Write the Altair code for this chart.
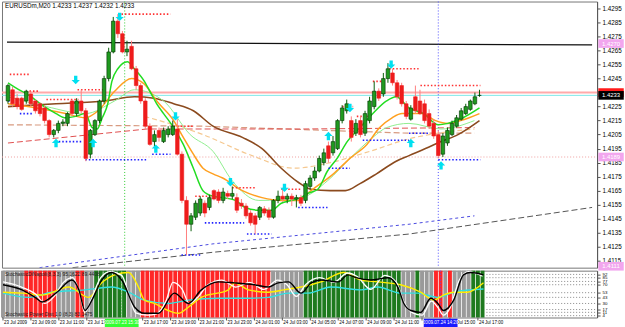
import altair as alt
import pandas as pd

# ---------------- price bars (EURUSD, one bar per index) ----------------
open_ = [1.4229, 1.4237, 1.4231, 1.4231, 1.4229, 1.4234, 1.4229, 1.4227, 1.4224, 1.4215,
         1.4205, 1.4208, 1.4213, 1.4213, 1.4229, 1.4220, 1.4229, 1.4222, 1.4191, 1.4205,
         1.4215, 1.4229, 1.4245, 1.4264, 1.4286, 1.4277, 1.4264, 1.4268, 1.4252, 1.4240,
         1.4229, 1.4211, 1.4200, 1.4208, 1.4200, 1.4205, 1.4205, 1.4209, 1.4191, 1.4158,
         1.4141, 1.4146, 1.4149, 1.4156, 1.4153, 1.4165, 1.4164, 1.4158, 1.4163, 1.4161,
         1.4160, 1.4156, 1.4154, 1.4149, 1.4147, 1.4146, 1.4152, 1.4151, 1.4146, 1.4158,
         1.4161, 1.4159, 1.4161, 1.4159, 1.4160, 1.4158, 1.4168, 1.4174, 1.4179, 1.4185,
         1.4197, 1.4192, 1.4195, 1.4215, 1.4222, 1.4215, 1.4206, 1.4215, 1.4206, 1.4215,
         1.4225, 1.4236, 1.4234, 1.4245, 1.4249, 1.4242, 1.4240, 1.4227, 1.4216, 1.4232,
         1.4229, 1.4227, 1.4220, 1.4213, 1.4205, 1.4191, 1.4199, 1.4205, 1.4211, 1.4216,
         1.4220, 1.4223, 1.4227, 1.4233]
close_ = [1.4240, 1.4227, 1.4225, 1.4223, 1.4236, 1.4227, 1.4222, 1.4220, 1.4215, 1.4205,
          1.4208, 1.4213, 1.4214, 1.4220, 1.4220, 1.4229, 1.4222, 1.4188, 1.4208, 1.4215,
          1.4229, 1.4245, 1.4264, 1.4286, 1.4277, 1.4264, 1.4266, 1.4252, 1.4240, 1.4229,
          1.4211, 1.4198, 1.4205, 1.4203, 1.4208, 1.4209, 1.4211, 1.4191, 1.4158, 1.4141,
          1.4147, 1.4156, 1.4159, 1.4149, 1.4160, 1.4159, 1.4158, 1.4164, 1.4161, 1.4163,
          1.4151, 1.4154, 1.4147, 1.4142, 1.4141, 1.4153, 1.4149, 1.4146, 1.4158, 1.4161,
          1.4159, 1.4161, 1.4159, 1.4160, 1.4156, 1.4170, 1.4174, 1.4179, 1.4188, 1.4192,
          1.4188, 1.4200, 1.4215, 1.4224, 1.4227, 1.4203, 1.4213, 1.4205, 1.4220, 1.4229,
          1.4236, 1.4231, 1.4245, 1.4252, 1.4242, 1.4232, 1.4227, 1.4218, 1.4224, 1.4222,
          1.4220, 1.4215, 1.4211, 1.4204, 1.4190, 1.4204, 1.4208, 1.4213, 1.4217, 1.4222,
          1.4225, 1.4229, 1.4232, 1.4233]
high_ = [1.4241, 1.4239, 1.4234, 1.4232, 1.4237, 1.4236, 1.4230, 1.4228, 1.4226, 1.4216,
         1.4209, 1.4215, 1.4216, 1.4221, 1.4230, 1.4231, 1.4237, 1.4224, 1.4209, 1.4216,
         1.4230, 1.4247, 1.4267, 1.4289, 1.4291, 1.4279, 1.4272, 1.4272, 1.4254, 1.4242,
         1.4231, 1.4213, 1.4208, 1.4210, 1.4210, 1.4211, 1.4215, 1.4216, 1.4193, 1.4161,
         1.4149, 1.4158, 1.4161, 1.4158, 1.4162, 1.4166, 1.4166, 1.4167, 1.4165, 1.4168,
         1.4163, 1.4159, 1.4156, 1.4151, 1.4149, 1.4154, 1.4154, 1.4153, 1.4159, 1.4165,
         1.4167, 1.4163, 1.4163, 1.4162, 1.4162, 1.4172, 1.4176, 1.4182, 1.4190, 1.4195,
         1.4200, 1.4204, 1.4216, 1.4226, 1.4230, 1.4218, 1.4216, 1.4218, 1.4222, 1.4232,
         1.4243, 1.4238, 1.4249, 1.4256, 1.4252, 1.4244, 1.4242, 1.4229, 1.4226, 1.4240,
         1.4237, 1.4230, 1.4223, 1.4216, 1.4208, 1.4206, 1.4210, 1.4215, 1.4219, 1.4224,
         1.4227, 1.4230, 1.4235, 1.4237]
low_ = [1.4227, 1.4225, 1.4223, 1.4222, 1.4227, 1.4225, 1.4220, 1.4218, 1.4213, 1.4203,
        1.4203, 1.4206, 1.4211, 1.4211, 1.4218, 1.4218, 1.4220, 1.4186, 1.4188, 1.4204,
        1.4213, 1.4227, 1.4243, 1.4263, 1.4274, 1.4263, 1.4261, 1.4251, 1.4237, 1.4227,
        1.4209, 1.4197, 1.4196, 1.4200, 1.4199, 1.4203, 1.4204, 1.4190, 1.4156, 1.4119,
        1.4136, 1.4144, 1.4147, 1.4146, 1.4151, 1.4158, 1.4156, 1.4156, 1.4159, 1.4159,
        1.4149, 1.4152, 1.4145, 1.4140, 1.4134, 1.4144, 1.4147, 1.4144, 1.4145, 1.4156,
        1.4157, 1.4156, 1.4154, 1.4153, 1.4154, 1.4156, 1.4166, 1.4172, 1.4178, 1.4183,
        1.4185, 1.4190, 1.4194, 1.4213, 1.4220, 1.4200, 1.4204, 1.4203, 1.4204, 1.4213,
        1.4223, 1.4229, 1.4232, 1.4242, 1.4240, 1.4230, 1.4225, 1.4216, 1.4215, 1.4220,
        1.4219, 1.4213, 1.4209, 1.4202, 1.4188, 1.4189, 1.4197, 1.4204, 1.4210, 1.4215,
        1.4219, 1.4222, 1.4226, 1.4232]
bar_idx = list(range(len(open_)))

# ---------------- moving averages / trend lines (bar index, price) ----------------
ma_green_x = [0, 1.9, 4.1, 8.4, 10.5, 12.6, 14.8, 16.9, 18.4, 19.5, 20.6, 21.8, 22.7, 24, 26.1, 27.6, 29.8, 31.3, 32.5, 34, 36.2, 38.3, 40.5, 42.6, 44.8, 46.9, 49.7, 51.8, 54.8, 57.6, 59.7, 61.9, 64, 65.5, 67.7, 69.8, 71.9, 74.1, 76.9, 79.7, 82.7, 84.8, 87.6, 90.8, 94, 96.1, 99.4, 103]
ma_green_y = [1.4242, 1.4238, 1.4234, 1.4224, 1.4220, 1.4217, 1.4218, 1.4220, 1.4210, 1.4209, 1.4217, 1.4227, 1.4243, 1.4252, 1.4257, 1.4252, 1.4243, 1.4234, 1.4227, 1.4220, 1.4210, 1.4198, 1.4181, 1.4165, 1.4161, 1.4160, 1.4158, 1.4153, 1.4151, 1.4151, 1.4156, 1.4158, 1.4160, 1.4163, 1.4166, 1.4179, 1.4188, 1.4200, 1.4210, 1.4220, 1.4229, 1.4232, 1.4224, 1.4220, 1.4212, 1.4213, 1.4217, 1.4224]
ma_lgreen_x = [0, 8.4, 16.9, 23.3, 27.6, 34, 39.8, 44.8, 49, 54.8, 64, 69.8, 74.7, 79.7, 82.7, 87.6, 94.6, 101.9]
ma_lgreen_y = [1.4232, 1.4225, 1.4220, 1.4229, 1.4237, 1.4229, 1.4205, 1.4193, 1.4172, 1.4158, 1.4160, 1.4172, 1.4188, 1.4203, 1.4210, 1.4213, 1.4209, 1.4215]
ma_orange_x = [0, 6.2, 12.6, 16.9, 19.7, 23.3, 27, 29.8, 32.5, 36.2, 38.3, 40.5, 42.6, 44.8, 46.9, 51.2, 55.5, 59.7, 63.4, 66.2, 71.1, 74.7, 78.4, 81.2, 83.9, 86.1, 90.4, 93.4, 96.1, 98.9, 103]
ma_orange_y = [1.4227, 1.4224, 1.4220, 1.4217, 1.4222, 1.4236, 1.4245, 1.4241, 1.4229, 1.4215, 1.4203, 1.4191, 1.4181, 1.4177, 1.4174, 1.4165, 1.4160, 1.4158, 1.4158, 1.4165, 1.4177, 1.4188, 1.4198, 1.4210, 1.4217, 1.4220, 1.4220, 1.4215, 1.4213, 1.4215, 1.4220]
ma_peach_x = [29.8, 42.6, 53.3, 62.5, 70.4, 79, 87.6, 94, 101.9]
ma_peach_y = [1.4218, 1.4205, 1.4190, 1.4181, 1.4185, 1.4193, 1.4202, 1.4206, 1.4209]
ma_brown_x = [0, 10.5, 21.2, 27.6, 31.9, 36.2, 40.5, 44.8, 51.2, 55.5, 59.7, 63.4, 66.2, 70.4, 73.7, 76.9, 80.5, 84.8, 87.6, 91.2, 94.6, 98.3, 103]
ma_brown_y = [1.4225, 1.4227, 1.4229, 1.4232, 1.4231, 1.4227, 1.4222, 1.4211, 1.4203, 1.4195, 1.4181, 1.4171, 1.4166, 1.4165, 1.4165, 1.4170, 1.4177, 1.4186, 1.4190, 1.4195, 1.4200, 1.4205, 1.4215]
dash_red_x = [0, 30.4, 64, 101.9]
dash_red_y = [1.4199, 1.4209, 1.4209, 1.4210]
dash_salmon_x = [0, 42.6, 87.6, 101.9]
dash_salmon_y = [1.4212, 1.4211, 1.4206, 1.4206]
dash_blue_x = [6.9, 44.8, 87.6, 101.9]
dash_blue_y = [1.4110, 1.4127, 1.4141, 1.4147]
dash_gray_x = [14.1, 44.8, 87.6, 127.6]
dash_gray_y = [1.4110, 1.4121, 1.4134, 1.4153]

# horizontal price levels
level_black = [1.4271, 1.4269]
level_pink = 1.4235
level_bid = 1.4233
level_dotted = 1.4189

# support / resistance dotted segments (start bar, end bar, price)
res_x1 = [0.4, 4.7, 8.4, 15.2, 24.8, 36.2, 40.9, 49.0, 59.7, 73.0, 76.2, 79.7, 83.3, 90.1]
res_x2 = [4.7, 6.9, 15.4, 21.2, 35.5, 40.5, 44.8, 54.0, 64.0, 75.4, 79.0, 82.7, 89.7, 103.2]
res_p = [1.4248, 1.4236, 1.4230, 1.4237, 1.4291, 1.4211, 1.4161, 1.4167, 1.4166, 1.4225, 1.4218, 1.4243, 1.4252, 1.4240]
sup_x1 = [0.0, 2.6, 11.1, 16.9, 31.5, 37.9, 43.0, 52.2, 63.4, 70.0, 77.5, 87.6, 94.0]
sup_x2 = [1.3, 5.6, 16.3, 30.4, 35.5, 42.0, 51.6, 57.6, 69.8, 74.7, 87.6, 91.9, 103.2]
sup_p = [1.4229, 1.4220, 1.4200, 1.4187, 1.4191, 1.4119, 1.4142, 1.4134, 1.4153, 1.4181, 1.4201, 1.4206, 1.4187]

# signal arrows
down_x = [14.8, 24.4, 36.6, 48.6, 60.4, 74.7, 83.7]
down_p = [1.4244, 1.4289, 1.4218, 1.4171, 1.4167, 1.4224, 1.4255]
up_x = [10.5, 18.6, 32.3, 70.0, 88.0, 94.6]
up_p = [1.4199, 1.4199, 1.4195, 1.4204, 1.4199, 1.4183]

vline_green = 25.5
vline_blue = 94.0

price_ticks = [1.4295, 1.4285, 1.4275, 1.4265, 1.4255, 1.4245, 1.4225, 1.4215, 1.4205,
               1.4195, 1.4185, 1.4175, 1.4165, 1.4155, 1.4145, 1.4135, 1.4125, 1.4115]
box_prices = [1.4270, 1.4235, 1.4233, 1.4189, 1.4111]
box_fill = ["#f2a6ee", "#ff1a1a", "#000000", "#f2a6ee", "#f2a6ee"]
box_text = ["#ffffff", "#000000", "#ffffff", "#ffffff", "#ffffff"]

# ---------------- oscillator panel ----------------
zone = ["N", "N", "N", "N", "N", "R", "R", "R", "R", "R", "R", "R", "N", "N", "N", "N",
        "R", "R", "N", "N", "G", "G", "G", "G", "G", "G", "G", "N", "N", "N",
        "R", "R", "R", "R", "R", "R", "R", "R", "R", "R", "R", "R", "R", "R", "R", "R", "R", "R", "R", "R",
        "R", "R", "R", "R", "R", "R", "R", "R", "N", "N", "N", "N", "N", "N", "N",
        "G", "G", "G", "G", "G", "G", "G", "G", "G", "G", "G", "G", "G", "G", "G", "G", "G", "G", "G", "G", "G",
        "N", "N", "N", "G", "N", "N", "N", "R", "R", "N", "R", "N", "N", "N", "N", "G", "G", "G"]
osc_black_x = [0, 4.1, 6.9, 8.4, 11.6, 14.8, 16.3, 17.6, 19.1, 21.2, 23.3, 25.5, 28.3, 30.4, 33.4, 36.8, 39.8, 42.6, 46.3, 49.7, 54, 57, 59.1, 61.3, 64, 66.2, 68.3, 72, 74.1, 75.8, 79, 82.7, 84.8, 86.1, 87.6, 89.7, 91.9, 93.4, 94.6, 96.8, 98.9, 100.4, 103.2]
osc_black_y = [70, 59, 43, 33, 54, 80, 59, 15, 37, 80, 96, 80, 22, 9, 9, 52, 30, 59, 76, 74, 70, 65, 74, 76, 52, 74, 80, 76, 91, 85, 80, 85, 65, 30, 15, 11, 41, 30, 15, 37, 91, 96, 91]
osc_white_x = [0, 4, 7, 9, 11, 13, 15, 16.5, 17.6, 19, 21, 23, 25.5, 27, 28.5, 31, 33, 35, 36.5, 38.5, 40, 42, 44, 47, 50, 53, 56, 59, 61, 63, 65, 68, 71, 74, 76, 79, 82, 84.5, 86, 88, 90, 92, 93.5, 94.6, 96, 98, 100, 103]
osc_white_y = [76, 65, 50, 30, 45, 75, 85, 50, 10, 40, 85, 98, 90, 50, 10, 5, 8, 35, 75, 60, 30, 45, 70, 80, 65, 75, 60, 80, 70, 45, 70, 85, 75, 95, 88, 60, 90, 75, 35, 10, 5, 35, 20, 5, 20, 80, 98, 88]
osc_yellow_x = [0, 4.1, 8.4, 14.1, 18.4, 21.2, 24, 27, 29.1, 30.4, 32.5, 35.5, 37.7, 39.8, 42.6, 48.4, 49.7, 52.7, 57, 60.4, 64, 68.3, 73.2, 76.9, 80.5, 85.4, 89.7, 92.5, 94.6, 96.8, 99.8, 103.2]
osc_yellow_y = [54, 52, 48, 65, 43, 74, 91, 96, 65, 37, 30, 15, 9, 22, 43, 59, 74, 59, 54, 59, 65, 76, 96, 80, 76, 70, 54, 37, 48, 54, 54, 74]
osc_cyan_x = [0, 5.6, 10.5, 17.6, 23.3, 27, 30.4, 35.5, 39.8, 46.3, 51.8, 57, 61.3, 65.5, 70.4, 76.9, 80.5, 85.4, 89.1, 93.4, 96.8, 100.4, 103.2]
osc_cyan_y = [52, 43, 54, 59, 65, 54, 37, 30, 37, 41, 41, 43, 52, 52, 65, 59, 65, 52, 52, 43, 54, 59, 61]
osc_levels = [92, 85, 77, 70, 53, 43, 30, 17, 11, 4]

time_label_bar = [0, 6, 12, 18, 30, 36, 42, 48, 54, 60, 66, 72, 78, 84, 90, 96, 102]
time_label_txt = ["23 Jul 2009", "23 Jul 09:00", "23 Jul 11:00", "23 Jul 13:00", "23 Jul 17:00",
                  "23 Jul 19:00", "23 Jul 21:00", "23 Jul 23:00", "24 Jul 01:00", "24 Jul 03:00",
                  "24 Jul 05:00", "24 Jul 07:00", "24 Jul 09:00", "24 Jul 11:00", "24 Jul 13:00",
                  "24 Jul 15:00", "24 Jul 17:00"]

header = "EURUSDm,M20  1.4233 1.4237 1.4232 1.4233"

# ---------------- chart ----------------
W = 597
H_MAIN = 267
H_OSC = 47
FONT = "Liberation Sans"

xs = alt.Scale(domain=[-0.214, 127.6], nice=False, zero=False)
ys = alt.Scale(domain=[1.4110, 1.4300], nice=False, zero=False)
os_ = alt.Scale(domain=[0, 100], nice=False, zero=False)

price_axis = alt.Axis(orient="right", values=price_ticks, format=".4f", title=None,
                      labelFontSize=6.3, labelFont=FONT, tickSize=3, labelPadding=2,
                      domainColor="#555555", tickColor="#555555", labelColor="#000000", grid=False)
osc_axis = alt.Axis(orient="right", values=osc_levels, title=None, labelFontSize=4.4,
                    labelFont=FONT, tickSize=3, labelPadding=2, domainColor="#555555",
                    tickColor="#555555", labelColor="#000000", grid=False, labelOverlap=False)


def X(f="x"):
    return alt.X(f + ":Q", scale=xs, axis=None)


def Y(f="y"):
    return alt.Y(f + ":Q", scale=ys, axis=price_axis)


def OY(f="y"):
    return alt.Y(f + ":Q", scale=os_, axis=osc_axis)


def line(xv, yv, color, width=1.0, dash=None, osc=False, interp="monotone"):
    df = pd.DataFrame({"x": xv, "y": yv})
    kw = dict(color=color, strokeWidth=width, interpolate=interp, clip=True)
    if dash:
        kw["strokeDash"] = dash
    return alt.Chart(df).mark_line(**kw).encode(x=X(), y=OY() if osc else Y())


layers = []

# horizontal reference lines
layers.append(line([-0.214, 127.6], level_black, "#111111", 1.3, interp="linear"))
layers.append(alt.Chart(pd.DataFrame({"y": [level_pink]})).mark_rule(color="#ffaaaa", strokeWidth=2).encode(
    y=Y(), x=alt.value(0), x2=alt.value(W)))
layers.append(alt.Chart(pd.DataFrame({"y": [level_bid]})).mark_rule(color="#7fe8e8", strokeWidth=1).encode(
    y=Y(), x=alt.value(0), x2=alt.value(W)))
layers.append(alt.Chart(pd.DataFrame({"y": [level_dotted]})).mark_rule(color="#f0a0a0", strokeWidth=1, strokeDash=[1, 2]).encode(
    y=Y(), x=alt.value(0), x2=alt.value(W)))

# vertical markers
for xv, col in [(vline_green, "#33cc33"), (vline_blue, "#5050ff")]:
    layers.append(alt.Chart(pd.DataFrame({"x": [xv]})).mark_rule(color=col, strokeWidth=1, strokeDash=[1, 2]).encode(x=X()))

# dashed trend lines
layers.append(line(dash_gray_x, dash_gray_y, "#555555", 1.0, [6, 3], interp="linear"))
layers.append(line(dash_blue_x, dash_blue_y, "#4a4ae0", 1.0, [3, 3], interp="linear"))
layers.append(line(dash_salmon_x, dash_salmon_y, "#d89a80", 1.2, [6, 3], interp="linear"))
layers.append(line(dash_red_x, dash_red_y, "#e05050", 1.0, [6, 3], interp="linear"))
layers.append(line(ma_peach_x, ma_peach_y, "#f5c890", 1.2, [5, 3]))

# moving averages
layers.append(line(ma_brown_x, ma_brown_y, "#8b4a1e", 1.6))
layers.append(line(ma_lgreen_x, ma_lgreen_y, "#90ee90", 1.0))
layers.append(line(ma_orange_x, ma_orange_y, "#ffa020", 1.5))
layers.append(line(ma_green_x, ma_green_y, "#22dd22", 1.5))

# support / resistance dotted segments
res_df = pd.DataFrame({"x": res_x1, "x2": res_x2, "y": res_p})
layers.append(alt.Chart(res_df).mark_rule(color="#ff3030", strokeWidth=1.6, strokeDash=[1.5, 2]).encode(
    x=X(), x2="x2:Q", y=Y()))
sup_df = pd.DataFrame({"x": sup_x1, "x2": sup_x2, "y": sup_p})
layers.append(alt.Chart(sup_df).mark_rule(color="#2020ff", strokeWidth=1.6, strokeDash=[1.5, 2]).encode(
    x=X(), x2="x2:Q", y=Y()))

# candles
cdf = pd.DataFrame({"x": bar_idx, "open": open_, "close": close_, "high": high_, "low": low_})
bull = "datum.close >= datum.open"
layers.append(alt.Chart(cdf).mark_rule(strokeWidth=1).encode(
    x=X(), y=Y("low"), y2="high:Q",
    color=alt.condition(bull, alt.value("#0b5e0b"), alt.value("#ff8080"))))
layers.append(alt.Chart(cdf).mark_bar(size=3.6, strokeWidth=0.6).encode(
    x=X(), y=Y("open"), y2="close:Q",
    color=alt.condition(bull, alt.value("#1f9a1f"), alt.value("#ee1c1c")),
    stroke=alt.condition(bull, alt.value("#003300"), alt.value("#ee1c1c"))))

# arrows (filled arrow symbols)
DOWN = "M-0.4,-1L0.4,-1L0.4,0L1,0L0,1L-1,0L-0.4,0Z"
UP = "M-0.4,1L0.4,1L0.4,0L1,0L0,-1L-1,0L-0.4,0Z"
layers.append(alt.Chart(pd.DataFrame({"x": down_x, "y": down_p})).mark_point(
    shape=DOWN, size=70, filled=True, opacity=1, color="#00e0f0").encode(x=X(), y=Y()))
layers.append(alt.Chart(pd.DataFrame({"x": up_x, "y": up_p})).mark_point(
    shape=UP, size=70, filled=True, opacity=1, color="#00e0f0").encode(x=X(), y=Y()))

# price boxes on the axis
BOX = "M-1,-0.34L1,-0.34L1,0.34L-1,0.34Z"
bdf = pd.DataFrame({"y": box_prices, "fill": box_fill, "tc": box_text,
                    "lab": [f"{p:.4f}" for p in box_prices]})
layers.append(alt.Chart(bdf).mark_point(shape=BOX, size=650, filled=True, opacity=1).encode(
    x=alt.value(W + 14), y=Y(), color=alt.Color("fill:N", scale=None)))
layers.append(alt.Chart(bdf).mark_text(fontSize=6.0, font=FONT).encode(
    x=alt.value(W + 14), y=Y(), text="lab:N", color=alt.Color("tc:N", scale=None)))

# header
layers.append(alt.Chart(pd.DataFrame({"t": [header]})).mark_text(
    align="left", baseline="middle", fontSize=6.3, font=FONT, color="#000000").encode(
    x=alt.value(3), y=alt.value(5), text="t:N"))

main = alt.layer(*layers).properties(width=W, height=H_MAIN)

# ----- oscillator panel -----
olayers = []
zdf = pd.DataFrame({"x": bar_idx, "zone": zone})
olayers.append(alt.Chart(zdf).transform_calculate(x1="datum.x - 0.42", x2="datum.x + 0.42").mark_rect().encode(
    x=alt.X("x1:Q", scale=xs, axis=None), x2="x2:Q", y=alt.value(0), y2=alt.value(H_OSC),
    color=alt.Color("zone:N", scale=alt.Scale(domain=["R", "G", "N"], range=["#ff2626", "#1e7a1e", "#9a9a9a"]), legend=None)))
ldf = pd.DataFrame({"y": osc_levels})
olayers.append(alt.Chart(ldf).mark_rule(color="#888888", strokeWidth=1, strokeDash=[1, 2]).encode(
    y=OY(), x=alt.value(486), x2=alt.value(W)))
for xv, col in [(vline_green, "#33cc33"), (vline_blue, "#5050ff")]:
    olayers.append(alt.Chart(pd.DataFrame({"x": [xv]})).mark_rule(color=col, strokeWidth=1, strokeDash=[1, 2]).encode(x=X()))
olayers.append(line(osc_cyan_x, osc_cyan_y, "#30e0e0", 1.4, osc=True))
olayers.append(line(osc_yellow_x, osc_yellow_y, "#ffee00", 1.4, osc=True))
olayers.append(line(osc_white_x, osc_white_y, "#ffffff", 1.3, osc=True))
olayers.append(line(osc_black_x, osc_black_y, "#000000", 1.4, osc=True))
olayers.append(alt.Chart(pd.DataFrame({"t": ["StochasticDiNapoli(8,3,3) 95.1622 89.4408"]})).mark_text(
    align="left", baseline="middle", fontSize=5.0, font=FONT, color="#222222").encode(
    x=alt.value(3), y=alt.value(3.5), text="t:N"))
olayers.append(alt.Chart(pd.DataFrame({"t": ["Stochastic Power Dist 1.0 (8,3) 83.1475"]})).mark_text(
    align="left", baseline="middle", fontSize=5.0, font=FONT, color="#222222").encode(
    x=alt.value(3), y=alt.value(H_OSC - 4), text="t:N"))

# time axis labels
tdf = pd.DataFrame({"x": time_label_bar, "t": time_label_txt})
olayers.append(alt.Chart(tdf).mark_text(align="left", baseline="middle", fontSize=4.5, font=FONT,
                                        color="#000000", dx=1).encode(
    x=X(), y=alt.value(H_OSC + 5.5), text="t:N"))
olayers.append(alt.Chart(tdf).mark_rule(color="#555555").encode(
    x=X(), y=alt.value(H_OSC), y2=alt.value(H_OSC + 3)))
TBOX = "M-1,-0.25L1,-0.25L1,0.25L-1,0.25Z"
bxdf = pd.DataFrame({"x": [vline_green, vline_blue], "fill": ["#33ff33", "#1a1aff"],
                     "tc": ["#ffffff", "#ffffff"], "t": ["2009.07.23 15:30", "2009.07.24 14:20"]})
olayers.append(alt.Chart(bxdf).mark_point(shape=TBOX, size=1150, filled=True, opacity=1).encode(
    x=X(), y=alt.value(H_OSC + 5.5), color=alt.Color("fill:N", scale=None)))
olayers.append(alt.Chart(bxdf).mark_text(baseline="middle", fontSize=4.6, font=FONT).encode(
    x=X(), y=alt.value(H_OSC + 5.5), text="t:N", color=alt.Color("tc:N", scale=None)))

osc = alt.layer(*olayers).properties(width=W, height=H_OSC)

chart = alt.vconcat(main, osc, spacing=3, bounds="flush").properties(
    padding=0, background="#ffffff").configure_view(stroke="#777777", strokeWidth=1)

chart.save("out.html", embed_options={"renderer": "svg", "actions": False})
